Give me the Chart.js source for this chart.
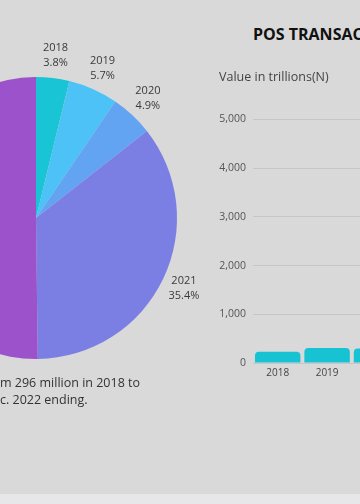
<!DOCTYPE html>
<html>
<head>
<meta charset="utf-8">
<script src="https://cdn.jsdelivr.net/npm/chart.js@4/dist/chart.umd.min.js"></script>
<style>
  html, body { margin: 0; padding: 0; }
  body {
    width: 360px; height: 504px; overflow: hidden; position: relative;
    background: #d9d9d9; font-family: "Open Sans", sans-serif; color: #333;
  }
  #pieBox { position: absolute; left: -164px; top: 18px; width: 400px; height: 400px; }
  #barBox { position: absolute; left: 205px; top: 106px; width: 295px; height: 279px; }
  .title { position: absolute; left: 253px; top: 23px; font-size: 16px; font-weight: 700;
           color: #111; white-space: nowrap; }
  .unit { position: absolute; left: 219px; top: 68px; font-size: 12.5px; color: #444;
          white-space: nowrap; }
  .note { position: absolute; left: 0; font-size: 12.5px; color: #333; white-space: nowrap; }
  .strip { position: absolute; left: 0; top: 494px; width: 360px; height: 10px; background: #e7e7e9; }
</style>
</head>
<body>
<div id="pieBox"><canvas id="pie"></canvas></div>
<div class="title">POS TRANSACTIONS</div>
<div class="unit">Value in trillions(N)</div>
<div id="barBox"><canvas id="bar"></canvas></div>
<div class="note" style="top:374px">m 296 million in 2018 to</div>
<div class="note" style="top:391px">c. 2022 ending.</div>
<div class="strip"></div>

<script>
// pie: share of transactions per year (%)
var pieYears = ['2018', '2019', '2020', '2021', '2022'];
var pieShares = [3.8, 5.7, 4.9, 35.4, 50.2];
var pieColors = ['#19c4d4', '#4cc2f6', '#62a4f1', '#7b7fe3', '#9c52cb'];

// bars: value per year (2021/2022 lie outside the visible crop)
var barYears = ['2018', '2019', '2020', '2021', '2022'];
var barValues = [230, 310, 296, 2130, 3010];
var yTicks = [0, 1000, 2000, 3000, 4000, 5000];

// draws "year / share%" outside each slice
var sliceLabels = {
    id: 'sliceLabels',
    afterDraw: function(chart) {
        var ctx = chart.ctx;
        var meta = chart.getDatasetMeta(0);
        ctx.save();
        ctx.font = '11px "Open Sans", sans-serif';
        ctx.fillStyle = '#3a3a3a';
        ctx.textAlign = 'center';
        ctx.textBaseline = 'middle';
        meta.data.forEach(function(arc, i) {
            var p = arc.getProps(['x', 'y', 'startAngle', 'endAngle', 'outerRadius'], true);
            var mid = (p.startAngle + p.endAngle) / 2;
            var r = p.outerRadius + 23;
            var x = p.x + Math.cos(mid) * r;
            var y = p.y + Math.sin(mid) * r;
            ctx.fillText(pieYears[i], x, y - 7.5);
            ctx.fillText(pieShares[i].toFixed(1) + '%', x, y + 7.5);
        });
        ctx.restore();
    }
};

new Chart(document.getElementById('pie'), {
    type: 'pie',
    data: {
        labels: pieYears,
        datasets: [{ data: pieShares, backgroundColor: pieColors, borderWidth: 0 }]
    },
    options: {
        responsive: true,
        maintainAspectRatio: false,
        animation: false,
        layout: { padding: 59 },
        plugins: { legend: { display: false }, tooltip: { enabled: false } }
    },
    plugins: [sliceLabels]
});

new Chart(document.getElementById('bar'), {
    type: 'bar',
    data: {
        labels: barYears,
        datasets: [{
            data: barValues,
            backgroundColor: '#17c3d3',
            borderRadius: { topLeft: 4, topRight: 4 },
            borderSkipped: 'bottom',
            barPercentage: 0.92,
            categoryPercentage: 1
        }]
    },
    options: {
        responsive: true,
        maintainAspectRatio: false,
        animation: false,
        layout: { padding: { top: 10, right: 0, left: 0, bottom: 0 } },
        plugins: { legend: { display: false }, tooltip: { enabled: false } },
        scales: {
            x: {
                grid: { display: false, drawTicks: false },
                border: { display: false },
                ticks: { color: '#444', font: { size: 10, family: 'Open Sans' }, padding: 4 },
                afterFit: function(s) { s.height = 22; }
            },
            y: {
                min: 0,
                max: 5000,
                afterBuildTicks: function(s) {
                    s.ticks = yTicks.map(function(v) { return { value: v }; });
                },
                grid: { color: '#c6c6c6', drawTicks: false, lineWidth: 1 },
                border: { display: false },
                ticks: {
                    color: '#555',
                    padding: 7,
                    font: { size: 10.5, family: 'Open Sans' },
                    callback: function(v) { return v.toLocaleString('en-US'); }
                },
                afterFit: function(s) { s.width = 48; }
            }
        }
    }
});
</script>
</body>
</html>
